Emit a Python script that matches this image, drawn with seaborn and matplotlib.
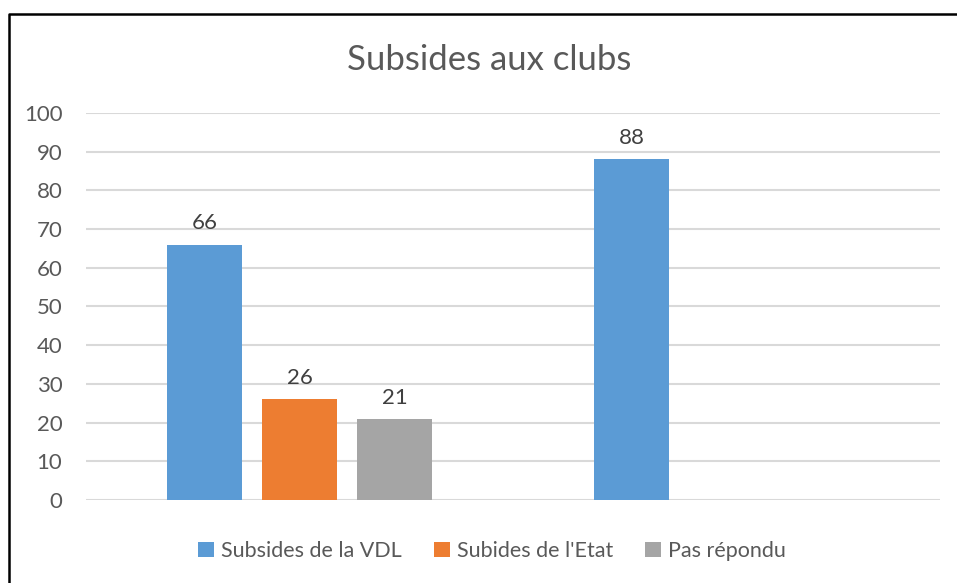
import pandas as pd
import numpy as np
import seaborn as sns
import matplotlib.pyplot as plt
from matplotlib.lines import Line2D
from matplotlib.patches import Patch

# data
groups = ['Groupe 1', 'Groupe 1', 'Groupe 1', 'Groupe 2']
series = ['Subsides de la VDL', "Subides de l'Etat", 'Pas répondu', 'Subsides de la VDL']
values = [66, 26, 21, 88]

series_order = ['Subsides de la VDL', "Subides de l'Etat", 'Pas répondu']
colors = ['#5B9BD5', '#ED7D31', '#A5A5A5']

df = pd.DataFrame({'group': groups, 'serie': series, 'value': values})

sns.set_style('white')
plt.rcParams['font.family'] = ['Lato', 'DejaVu Sans']

fig = plt.figure(figsize=(9.57, 5.83), dpi=100)
ax = fig.add_axes([0.0899, 0.1424, 0.8923, 0.6638])

sns.barplot(data=df, x='group', y='value', hue='serie', hue_order=series_order,
            order=['Groupe 1', 'Groupe 2'], palette=colors, width=0.667, gap=0.21,
            saturation=1, errorbar=None, legend=False, linewidth=0, ax=ax)

for cont in ax.containers:
    ax.bar_label(cont, padding=8, fontsize=16, color='#404040')

ax.set_ylim(0, 100)
ax.set_yticks(range(0, 101, 10))
ax.yaxis.grid(True, color='#D9D9D9', linewidth=1.5)
ax.set_axisbelow(True)
ax.set_xticks([])
ax.set_xlabel('')
ax.set_ylabel('')
ax.tick_params(axis='y', labelsize=16, labelcolor='#595959', length=0, pad=17)
for s in ax.spines.values():
    s.set_visible(False)

fig.text(0.511, 0.897, 'Subsides aux clubs', ha='center', va='center',
         fontsize=25, color='#595959')

handles = [Patch(facecolor=c, edgecolor='none') for c in colors]
fig.legend(handles, series_order, loc='center', bbox_to_anchor=(0.514, 0.055), ncol=3,
           frameon=False, fontsize=15.5, labelcolor='#595959', handlelength=0.75,
           handleheight=0.75, handletextpad=0.3, columnspacing=1.5)

# outer frame of the chart (left and top edges visible)
fig.add_artist(Line2D([9 / 957, 9 / 957, 1], [0, 1 - 14 / 583, 1 - 14 / 583],
                      color='black', linewidth=1.8, transform=fig.transFigure))

fig.savefig('out.png', dpi=100)
